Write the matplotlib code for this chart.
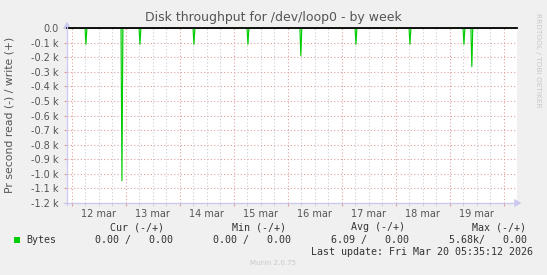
import numpy as np
import matplotlib
matplotlib.use('Agg')
import matplotlib.pyplot as plt
import matplotlib.dates as mdates
from matplotlib.patches import Rectangle
from datetime import datetime, timedelta

# spikes (read bytes/s, shown negative)
spike_times = ['2026-03-12 06:25', '2026-03-12 22:25', '2026-03-13 06:25',
               '2026-03-14 06:25', '2026-03-15 06:25', '2026-03-16 05:55',
               '2026-03-17 06:25', '2026-03-18 06:25', '2026-03-19 06:25',
               '2026-03-19 09:55']
spike_vals = [-112, -1047, -112, -112, -112, -190, -112, -112, -112, -265]

y_ticks = [0, -100, -200, -300, -400, -500, -600, -700, -800, -900, -1000, -1100, -1200]
y_labels = ['0.0', '-0.1 k', '-0.2 k', '-0.3 k', '-0.4 k', '-0.5 k', '-0.6 k',
            '-0.7 k', '-0.8 k', '-0.9 k', '-1.0 k', '-1.1 k', '-1.2 k']
day_labels = ['12 mar', '13 mar', '14 mar', '15 mar', '16 mar', '17 mar', '18 mar', '19 mar']

cols = ['Cur (-/+)', 'Min (-/+)', 'Avg (-/+)', 'Max (-/+)']
vals = ['0.00 /   0.00', '0.00 /   0.00', '6.09 /   0.00', '5.68k/   0.00']
last_update = 'Last update: Fri Mar 20 05:35:12 2026'

W, H = 547, 275
BG = '#f0f0f0'
TXT = '#555555'
GREEN = '#00cc00'

def fx(px):
    return px / W

def fy(py):
    return 1 - py / H

fig = plt.figure(figsize=(W / 100, H / 100), dpi=100, facecolor=BG)
ax = fig.add_axes([fx(67), fy(203), fx(517) - fx(67), fy(28) - fy(203)])
ax.set_facecolor('white')

# build series: zero baseline, each spike one 30 min sample
t0 = datetime(2026, 3, 11, 22, 0)
t1 = datetime(2026, 3, 20, 6, 0)
xs, ys = [t0], [0]
for ts, v in zip(spike_times, spike_vals):
    t = datetime.strptime(ts, '%Y-%m-%d %H:%M')
    xs += [t - timedelta(minutes=25), t, t + timedelta(minutes=25)]
    ys += [0, v, 0]
xs.append(t1)
ys.append(0)
xn = mdates.date2num(xs)
ax.fill_between(xn, ys, 0, color='#a8eea8', lw=0, zorder=3)
ax.plot(xn, ys, color=GREEN, lw=0.8, zorder=4)

# grid
days = [datetime(2026, 3, 12) + timedelta(days=i) for i in range(9)]
ax.set_xticks(mdates.date2num(days))
ax.set_xticks(mdates.date2num([datetime(2026, 3, 12) + timedelta(hours=6 * i) for i in range(0, 33)
                               if i % 4 != 0]), minor=True)
ax.set_xticklabels([])
ax.grid(True, which='minor', axis='x', color='#cccccc', ls=(0, (1, 2)), lw=0.8)
ax.grid(True, which='major', axis='x', color='#e0a0a0', ls=(0, (1, 2)), lw=0.8)
ax.set_yticks(y_ticks)
ax.set_yticklabels(y_labels)
ax.grid(True, which='major', axis='y', color='#e0a0a0', ls=(0, (1, 2)), lw=0.8)
ax.set_axisbelow(True)

ax.set_xlim(mdates.date2num(t0), mdates.date2num(t1))
ax.set_ylim(-1200, 0)
ax.axhline(0, color='black', lw=1.3, zorder=5, clip_on=False)

ax.tick_params(axis='y', which='major', length=2, color='#e0a0a0', pad=4,
               labelsize=7, labelcolor=TXT)
ax.tick_params(axis='x', which='major', length=2, color='#e0a0a0')
ax.tick_params(axis='x', which='minor', length=2, color='#cccccc')
for s in ax.spines.values():
    s.set_visible(False)

# day labels at noon
for i, lab in enumerate(day_labels):
    ax.text(mdates.date2num(days[i] + timedelta(hours=12)), -1240, lab,
            ha='center', va='top', fontsize=7, color=TXT, clip_on=False)

# axes arrows
ac = '#c8c8f0'
fig.add_artist(plt.Line2D([fx(67), fx(67)], [fy(205), fy(24)], color=ac, lw=0.9))
fig.add_artist(plt.Line2D([fx(64), fx(519)], [fy(203), fy(203)], color=ac, lw=0.9))
ax.annotate('', xy=(fx(67), fy(19)), xytext=(fx(67), fy(25)), xycoords='figure fraction',
            arrowprops=dict(arrowstyle='-|>,head_length=0.5,head_width=0.3', color=ac, lw=0))
ax.annotate('', xy=(fx(524), fy(203)), xytext=(fx(518), fy(203)), xycoords='figure fraction',
            arrowprops=dict(arrowstyle='-|>,head_length=0.5,head_width=0.3', color=ac, lw=0))

# texts
fig.text(fx(273), fy(18), 'Disk throughput for /dev/loop0 - by week', ha='center', va='center',
         fontsize=9, color=TXT)
fig.text(fx(10), fy(115), 'Pr second read (-) / write (+)', rotation=90, ha='center', va='center',
         fontsize=7.8, color=TXT)
fig.text(fx(538), fy(60), 'RRDTOOL / TOBI OETIKER', rotation=270, ha='center', va='center',
         fontsize=5.3, color='#c8c8c8')

mono = 'DejaVu Sans Mono'
fig.add_artist(Rectangle((fx(14), fy(243)), fx(6), fy(237) - fy(243), transform=fig.transFigure,
                         facecolor=GREEN, edgecolor='none'))
fig.text(fx(26), fy(240), 'Bytes', ha='left', va='center', fontsize=7.2, family=mono, color='#333333')
head_x = [164, 286, 405, 526]
val_x = [173, 291, 409, 527]
for c, hx in zip(cols, head_x):
    fig.text(fx(hx), fy(227), c, ha='right', va='center', fontsize=7.2, family=mono, color='#333333')
for v, vx in zip(vals, val_x):
    fig.text(fx(vx), fy(240), v, ha='right', va='center', fontsize=7.2, family=mono, color='#333333')
fig.text(fx(533), fy(252), last_update, ha='right', va='center', fontsize=7.2, family=mono, color='#333333')
fig.text(fx(273), fy(263), 'Munin 2.0.75', ha='center', va='center', fontsize=5, color='#c8c8c8')

fig.savefig('out.png', dpi=100, facecolor=BG)
